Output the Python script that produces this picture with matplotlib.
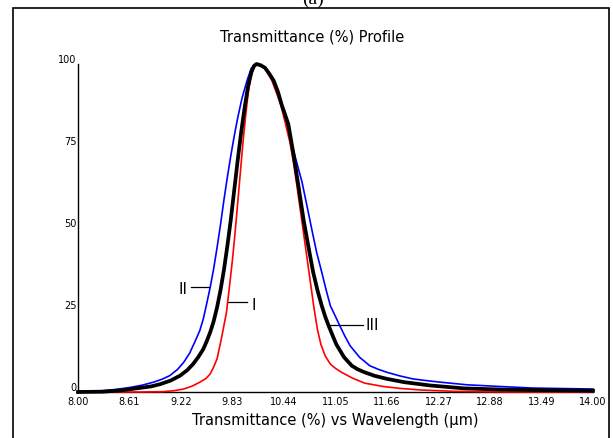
import numpy as np
import matplotlib
matplotlib.use("Agg")
import matplotlib.pyplot as plt
from matplotlib.patches import Rectangle

# curve II (blue)
blue_x = [8.00, 8.29, 8.45, 8.61, 8.75, 8.88, 8.98, 9.07, 9.16, 9.23, 9.30, 9.36, 9.42, 9.46,
          9.50, 9.54, 9.58, 9.62, 9.66, 9.70, 9.74, 9.78, 9.82, 9.86, 9.91, 9.97, 10.02,
          10.08, 10.13, 10.18, 10.23, 10.28, 10.37, 10.42, 10.47, 10.54, 10.61, 10.68,
          10.73, 10.78, 10.84, 10.89, 10.94, 11.00, 11.05, 11.11, 11.17, 11.28, 11.40,
          11.50, 11.60, 11.75, 11.90, 12.05, 12.22, 12.53, 12.90, 13.30, 14.00]
blue_y = [0.0, 0.4, 0.8, 1.4, 2.1, 3.0, 3.9, 5.0, 6.9, 9.0, 11.8, 15.2, 18.8, 22.3,
          27.0, 31.9, 37.5, 44.0, 51.0, 58.5, 65.5, 72.0, 78.0, 83.5, 89.5, 95.0, 98.8,
          99.7, 99.5, 98.8, 97.0, 94.9, 87.8, 82.5, 77.6, 70.8, 64.0, 55.2,
          48.8, 42.6, 36.5, 31.2, 26.3, 23.0, 20.2, 17.0, 14.1, 10.6, 8.0,
          6.9, 6.0, 4.9, 4.0, 3.5, 3.0, 2.2, 1.7, 1.2, 0.9]

# curve I (red)
red_x = [8.00, 8.72, 8.99, 9.12, 9.23, 9.33, 9.42, 9.49, 9.54, 9.58, 9.62, 9.67, 9.73, 9.77,
         9.80, 9.83, 9.86, 9.89, 9.92, 9.95, 9.98, 10.01, 10.05, 10.09, 10.13, 10.17,
         10.26, 10.36, 10.42, 10.47, 10.51, 10.55, 10.59, 10.63, 10.67, 10.71, 10.75,
         10.79, 10.83, 10.88, 10.94, 11.00, 11.07, 11.20, 11.34, 11.55, 11.75, 12.00,
         12.40, 13.00, 14.00]
red_y = [0.0, 0.0, 0.1, 0.4, 0.9, 1.8, 3.0, 4.1, 5.5, 7.6, 10.1, 16.2, 24.3, 33.4,
         40.5, 48.5, 57.5, 66.5, 75.5, 83.5, 90.5, 95.8, 99.0, 100.0, 99.6, 99.0,
         94.9, 87.8, 81.5, 76.0, 70.0, 63.0, 55.5, 48.0, 40.5, 33.0, 25.5,
         19.0, 14.5, 11.0, 8.5, 7.2, 6.0, 4.2, 2.7, 1.7, 1.1, 0.6,
         0.2, 0.0, 0.0]

# curve III (black)
black_x = [8.00, 8.29, 8.50, 8.68, 8.85, 8.96, 9.08, 9.19, 9.27, 9.34, 9.40, 9.46, 9.50, 9.54,
           9.58, 9.62, 9.66, 9.70, 9.74, 9.78, 9.82, 9.86, 9.90, 9.94, 9.98, 10.02, 10.05,
           10.08, 10.13, 10.18, 10.23, 10.28, 10.33, 10.37, 10.45, 10.51, 10.57, 10.63,
           10.70, 10.74, 10.79, 10.84, 10.88, 10.92, 10.97, 11.01, 11.10, 11.19, 11.26,
           11.34, 11.46, 11.60, 11.80, 12.10, 12.50, 13.00, 14.00]
black_y = [0.0, 0.1, 0.5, 1.1, 1.7, 2.4, 3.5, 5.0, 6.6, 8.5, 10.6, 13.1, 15.5, 18.2,
           21.5, 25.8, 31.0, 37.2, 44.5, 52.5, 61.5, 70.5, 79.0, 86.5, 93.0, 97.5, 99.4,
           100.0, 99.6, 98.8, 97.0, 94.9, 91.5, 87.8, 81.7, 72.6, 62.5, 52.2,
           42.1, 36.5, 31.0, 26.3, 23.0, 20.2, 17.0, 14.5, 10.6, 8.0, 6.9,
           6.0, 4.9, 4.0, 3.0, 2.0, 1.1, 0.7, 0.4]

x_tick_labels = ["8.00", "8.61", "9.22", "9.83", "10.44", "11.05", "11.66",
                 "12.27", "12.88", "13.49", "14.00"]
y_ticks = [0, 25, 50, 75, 100]

W, H = 613, 439
fig = plt.figure(figsize=(W / 100, H / 100), dpi=100)
fig.patch.set_facecolor("white")

# outer frame and panel letter (cut by the top edge, as in the source)
fig.patches.append(Rectangle((12.5 / W, -0.1), 596 / W, 0.1 + (H - 8.5) / H,
                             transform=fig.transFigure, fill=False,
                             edgecolor="black", linewidth=1.2))
fig.text(313 / W, 1 - 4 / H, "(a)", ha="center", va="baseline",
         fontsize=14, family="Liberation Serif")

ax = fig.add_axes([78 / W, 1 - 393 / H, (593 - 78) / W, (393 - 65) / H])
ax.set_facecolor("white")

ax.plot(blue_x, blue_y, color="#0000ff", lw=1.2, clip_on=False, zorder=3)
ax.plot(red_x, red_y, color="#ff0000", lw=1.2, clip_on=False, zorder=4)
ax.plot(black_x, black_y, color="black", lw=2.7, clip_on=False, zorder=5,
        solid_joinstyle="round")

ax.set_xlim(8, 14)
ax.set_ylim(0, 100)
ax.set_xticks(np.linspace(8, 14, len(x_tick_labels)))
ax.set_xticklabels(x_tick_labels, fontsize=7)
ax.set_yticks(y_ticks)
ax.set_yticklabels([str(v) for v in y_ticks], fontsize=7)
for lab in ax.get_yticklabels():
    lab.set_verticalalignment("bottom")
ax.tick_params(axis="both", length=0)
ax.tick_params(axis="x", pad=3)
ax.tick_params(axis="y", pad=1)

for s in ["top", "right"]:
    ax.spines[s].set_visible(False)
for s in ["left", "bottom"]:
    ax.spines[s].set_linewidth(1.0)

ax.set_xlabel("Transmittance (%) vs Wavelength (\u00b5m)", fontsize=10.5, labelpad=4)
fig.text(312 / W, 1 - 42 / H, "Transmittance (%) Profile", ha="center",
         va="baseline", fontsize=10.5)

# curve labels
ax.plot([9.313, 9.530], [31.9, 31.9], color="black", lw=0.9)
ax.text(9.28, 31.6, "II", ha="right", va="center", fontsize=11)
ax.plot([9.751, 9.965], [27.3, 27.3], color="black", lw=0.9)
ax.text(10.016, 26.8, "I", ha="left", va="center", fontsize=11)
ax.plot([10.916, 11.317], [20.4, 20.4], color="black", lw=0.9)
ax.text(11.355, 20.5, "III", ha="left", va="center", fontsize=11)

fig.savefig("out.png", dpi=100, facecolor="white")
